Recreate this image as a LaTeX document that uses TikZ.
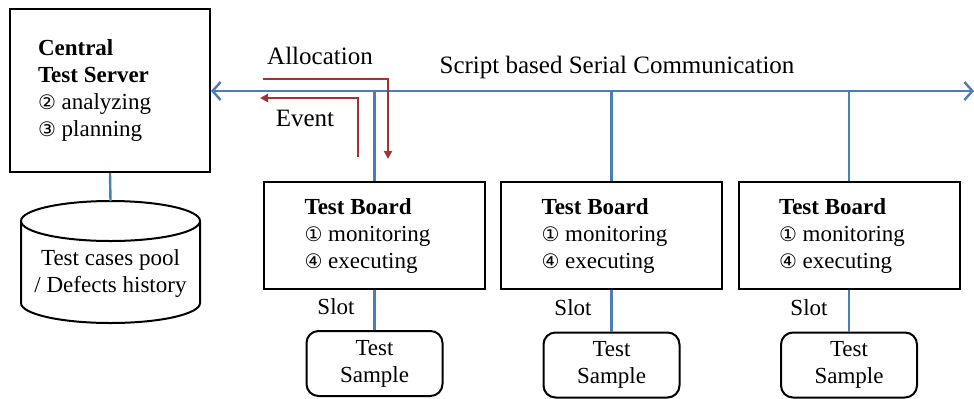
\documentclass[tikz,border=0pt]{standalone}
\usepackage{fontspec}
\setmainfont{Liberation Serif}
\newfontfamily\circfont{DejaVu Sans}
\usepackage{xcolor}
\usetikzlibrary{arrows.meta}
\definecolor{busblue}{RGB}{74,126,187}
\definecolor{msgred}{RGB}{165,50,50}
\newcommand{\cnum}[1]{{\circfont\fontsize{10}{10}\selectfont #1}}

\tikzset{
  box/.style={draw,line width=1pt,align=flush left,inner sep=0pt},
  server/.style={box,minimum width=100pt,minimum height=81.5pt,text width=72pt},
  board/.style={box,minimum width=110.5pt,minimum height=53.5pt,text width=70pt},
  sample/.style={draw,line width=1pt,rounded corners=6pt,align=center,minimum width=68pt,minimum height=32.5pt,inner sep=0pt},
  drum/.style={line width=1pt},
  bus/.style={busblue,line width=1.2pt},
  msg/.style={msgred,line width=1.2pt,-{Triangle[length=4pt,width=4pt]}},
  biglabel/.style={font=\fontsize{12.5}{14}\selectfont},
}

\begin{document}
\begin{tikzpicture}[x=0.5pt,y=-0.5pt,font=\fontsize{11.5}{13.5}\selectfont]
\useasboundingbox (0,0) rectangle (974,398);

\node[server] (srv) at (110,90.5) {\textbf{Central}\\\textbf{Test Server}\\\cnum{②} analyzing\\\cnum{③} planning};

\draw[drum] (110.5,221) ellipse [x radius=89.5, y radius=20];
\draw[drum] (21,221) -- (21,303) arc [start angle=180, end angle=0, x radius=89.5, y radius=20] -- (200,221);
\coordinate (dbtop) at (110.5,201);
\node[align=center] (db) at (110.5,273) {Test cases pool\\/ Defects history};

\node[board] (b1) at (374.5,235.5) {\textbf{Test Board}\\\cnum{①} monitoring\\\cnum{④} executing};
\node[board] (b2) at (611.5,235.5) {\textbf{Test Board}\\\cnum{①} monitoring\\\cnum{④} executing};
\node[board] (b3) at (849,235.5) {\textbf{Test Board}\\\cnum{①} monitoring\\\cnum{④} executing};

\node[sample] (s1) at (374.5,363.5) {Test\\Sample};
\node[sample] (s2) at (611.5,365) {Test\\Sample};
\node[sample] (s3) at (849,365) {Test\\Sample};

\node[] (slot1) at (336,307) {Slot};
\node[] (slot2) at (573,308) {Slot};
\node[] (slot3) at (809,308) {Slot};

\node[biglabel] (alloc) at (320,56) {Allocation};
\node[biglabel] (event) at (305,118) {Event};
\node[biglabel] (serial) at (617,67) {Script based Serial Communication};

\coordinate (busR) at (974,91);
\draw[bus,{Straight Barb[length=4pt,width=9pt]}-{Straight Barb[length=4pt,width=9pt]}] (srv.east |- busR) -- (busR);
\draw[bus] (b1.north) -- (b1.north |- busR);
\draw[bus] (b2.north) -- (b2.north |- busR);
\draw[bus] (b3.north) -- (b3.north |- busR);
\draw[bus] (srv.south) -- (dbtop);
\draw[bus] (b1.south) -- (s1.north);
\draw[bus] (b2.south) -- (s2.north);
\draw[bus] (b3.south) -- (s3.north);

\coordinate (allocS) at (263,79);
\coordinate (allocE) at (388,159);
\coordinate (eventS) at (358,157);
\coordinate (eventE) at (260,98);
\draw[msg] (allocS) -| (allocE);
\draw[msg] (eventS) |- (eventE);
\end{tikzpicture}
\end{document}
